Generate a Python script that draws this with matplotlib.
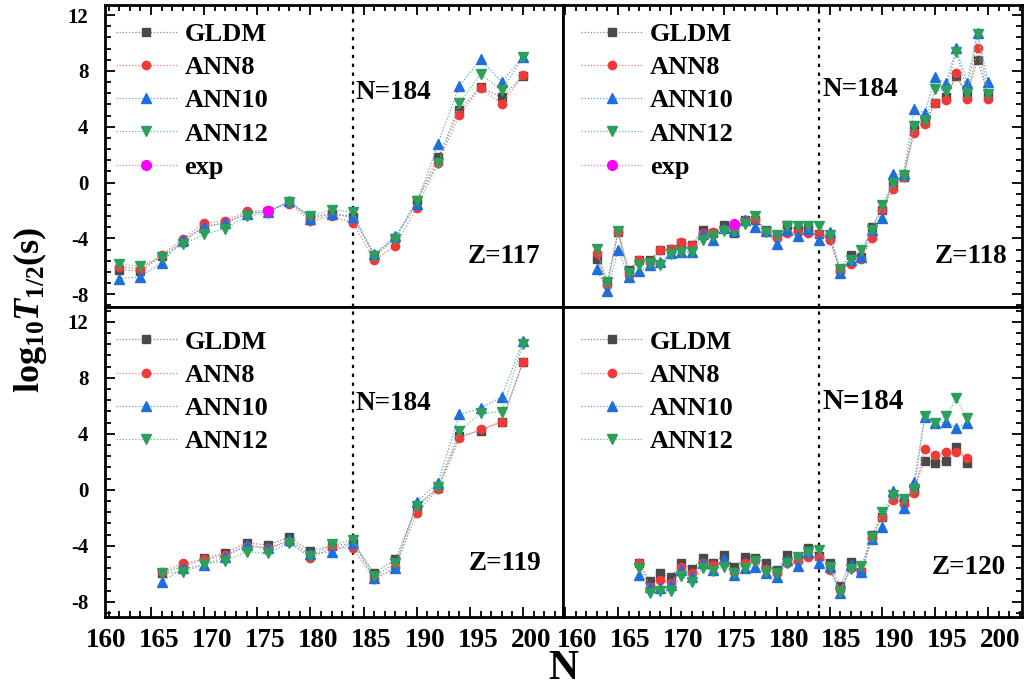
import matplotlib
matplotlib.use("Agg")
import matplotlib.pyplot as plt
from matplotlib.ticker import MultipleLocator
from matplotlib.transforms import ScaledTranslation, blended_transform_factory

plt.rcParams['font.family'] = ['Liberation Serif', 'DejaVu Serif']
plt.rcParams['font.weight'] = 'bold'
plt.rcParams['axes.unicode_minus'] = False
plt.rcParams['mathtext.fontset'] = 'custom'
plt.rcParams['mathtext.rm'] = 'Liberation Serif:bold'
plt.rcParams['mathtext.it'] = 'Liberation Serif:bold:italic'
plt.rcParams['mathtext.bf'] = 'Liberation Serif:bold'

# Z = 117
n_117 = list(range(162, 201, 2))
gldm_117 = [-6.23, -6.33, -5.28, -4.25, -3.13, -2.89, -2.22, -2.03, -1.36, -2.46,
            -2.22, -2.46, -5.20, -3.94, -1.26, 1.80, 5.19, 6.85, 6.10, 7.63]
ann8_117 = [-6.04, -6.16, -5.20, -4.01, -2.89, -2.74, -2.03, -1.98, -1.50, -2.74,
            -2.41, -2.89, -5.56, -4.53, -1.79, 1.37, 4.83, 6.81, 5.62, 7.70]
ann10_117 = [-6.88, -6.76, -5.73, -4.13, -3.17, -2.89, -2.22, -2.10, -1.33, -2.58,
             -2.27, -2.46, -5.13, -3.84, -1.55, 2.80, 6.91, 8.82, 7.22, 9.01]
ann12_117 = [-5.85, -5.99, -5.32, -4.42, -3.70, -3.29, -2.41, -2.17, -1.38, -2.41,
             -1.93, -2.10, -5.28, -4.01, -1.31, 1.41, 5.67, 7.77, 6.62, 8.97]
exp_n_117 = [176]
exp_117 = [-2.0]

# Z = 118
n_118 = list(range(163, 201))
gldm_118 = [-5.44, -7.12, -3.53, -6.23, -5.51, -5.51, -4.85, -4.73, -4.30, -4.44,
            -3.41, -3.58, -3.05, -3.60, -2.65, -2.65, -3.36, -3.77, -3.05, -3.41,
            -3.22, -3.70, -3.89, -6.16, -5.20, -5.32, -3.17, -1.98, -0.07, 0.41,
            3.87, 4.35, 5.67, 6.10, 7.63, 6.26, 8.77, 6.26]
ann8_118 = [-5.04, -7.35, -3.53, -6.64, -5.51, -5.68, -4.80, -4.73, -4.25, -4.44,
            -3.60, -3.53, -3.29, -3.30, -2.65, -2.60, -3.53, -3.94, -3.60, -3.53,
            -3.60, -3.70, -4.13, -6.33, -5.80, -5.44, -3.96, -1.98, -0.43, 0.41,
            3.52, 4.23, 5.71, 5.91, 7.86, 6.02, 9.61, 6.02]
ann10_118 = [-6.21, -7.76, -4.80, -6.76, -6.35, -5.92, -5.68, -5.04, -4.96, -4.96,
             -3.65, -4.13, -3.22, -3.46, -2.69, -3.17, -3.46, -4.41, -3.36, -3.84,
             -3.29, -4.13, -3.53, -6.47, -5.52, -5.32, -3.41, -2.51, 0.60, 0.60,
             5.24, 5.00, 7.53, 7.15, 9.61, 7.15, 10.75, 7.22]
ann12_118 = [-4.73, -7.12, -3.48, -6.47, -5.87, -5.75, -5.92, -5.08, -4.96, -4.96,
             -4.08, -3.84, -3.46, -3.46, -2.93, -2.41, -3.53, -3.77, -3.12, -3.12,
             -3.12, -3.12, -3.77, -6.16, -5.56, -4.85, -3.37, -1.57, -0.02, 0.53,
             4.04, 4.47, 6.67, 6.57, 9.37, 6.43, 10.62, 6.38]
exp_n_118 = [176]
exp_118 = [-3.0]

# Z = 119
n_119 = list(range(166, 201, 2))
gldm_119 = [-5.93, -5.50, -4.90, -4.50, -3.79, -3.95, -3.40, -4.36, -4.02, -3.83,
            -5.93, -4.98, -1.21, 0.10, 3.83, 4.21, 4.86, 9.14]
ann8_119 = [-5.86, -5.26, -4.98, -4.67, -4.02, -4.19, -3.71, -4.90, -4.12, -4.19,
            -6.40, -5.50, -1.64, 0.02, 3.67, 4.31, 4.86, 9.14]
ann10_119 = [-6.57, -5.62, -5.38, -4.79, -3.95, -4.19, -3.60, -4.60, -4.43, -3.79,
             -6.33, -5.62, -0.86, 0.50, 5.38, 5.81, 6.64, 10.64]
ann12_119 = [-5.98, -5.86, -5.33, -5.07, -4.43, -4.55, -3.79, -4.74, -3.90, -3.60,
             -6.17, -5.26, -1.17, 0.21, 4.19, 5.45, 5.57, 10.40]

# Z = 120
n_120 = list(range(167, 199))
gldm_120 = [-5.26, -6.50, -5.98, -6.26, -5.21, -5.69, -4.90, -5.26, -4.67, -5.50,
            -4.83, -4.90, -5.21, -5.74, -4.67, -4.90, -4.19, -4.74, -5.21, -6.88,
            -5.14, -5.86, -3.24, -1.93, -0.62, -0.86, 0.10, 2.07, 1.88, 2.07,
            3.02, 1.93]
ann8_120 = [-5.21, -6.93, -6.45, -6.69, -5.50, -5.98, -5.26, -5.38, -5.14, -5.86,
            -5.26, -5.02, -5.69, -5.93, -5.21, -5.07, -4.79, -4.79, -5.74, -7.17,
            -5.62, -5.79, -3.48, -1.93, -0.74, -1.02, -0.21, 2.88, 2.48, 2.71,
            2.71, 2.29]
ann10_120 = [-6.10, -6.93, -7.05, -6.81, -5.74, -6.21, -5.21, -5.74, -4.98, -6.10,
             -5.62, -5.50, -5.98, -6.26, -5.02, -5.45, -4.43, -5.26, -5.50, -7.40,
             -5.38, -5.86, -3.55, -2.64, -0.07, -1.33, 0.57, 5.21, 4.74, 4.86,
             4.43, 4.79]
ann12_120 = [-5.62, -7.36, -7.21, -7.21, -6.17, -6.57, -5.62, -5.79, -5.50, -5.98,
             -5.62, -5.10, -5.86, -5.98, -5.21, -4.79, -4.43, -4.31, -5.50, -7.29,
             -5.69, -5.45, -3.36, -1.57, -0.38, -0.69, 0.02, 5.26, 4.74, 5.26,
             6.52, 5.10]

# marker colour, connecting-line colour, marker, size
series_style = {
    'GLDM': ('#4a4a4a', '#8a8a8a', 's', 5.5),
    'ANN8': ('#f03a3a', '#f07a7a', 'o', 6),
    'ANN10': ('#1e6fdc', '#6a9be6', '^', 7),
    'ANN12': ('#2e9e5b', '#6cbf8e', 'v', 7),
    'exp': ('#ff00ff', '#e080e0', 'o', 7),
}
dot = (0, (1, 1.5))

fig = plt.figure(figsize=(10.26, 6.89), dpi=100)
W, H = 1026, 689


def make_ax(x0, y0, x1, y1):
    return fig.add_axes([x0 / W, 1 - y1 / H, (x1 - x0) / W, (y1 - y0) / H])


ax_tl = make_ax(105, 5, 563, 307)
ax_tr = make_ax(563, 5, 1022, 307)
ax_bl = make_ax(105, 307, 563, 617)
ax_br = make_ax(563, 307, 1022, 617)

panels = [
    (ax_tl, n_117, [gldm_117, ann8_117, ann10_117, ann12_117], (exp_n_117, exp_117)),
    (ax_tr, n_118, [gldm_118, ann8_118, ann10_118, ann12_118], (exp_n_118, exp_118)),
    (ax_bl, n_119, [gldm_119, ann8_119, ann10_119, ann12_119], None),
    (ax_br, n_120, [gldm_120, ann8_120, ann10_120, ann12_120], None),
]
names = ['GLDM', 'ANN8', 'ANN10', 'ANN12']


def draw(ax, n, v, name, z=2):
    mc, lc, mk, ms = series_style[name]
    ax.plot(n, v, ls=dot, lw=0.9, color=lc, marker=mk, ms=ms,
            mec=mc, mfc=mc, label=name, zorder=z)


for ax, n, vals, exp in panels:
    for name, v in zip(names, vals):
        draw(ax, n, v, name)
    if exp is not None:
        draw(ax, exp[0], exp[1], 'exp', z=5)
    ax.axvline(184, color='black', ls=(0, (1.5, 2.5)), lw=1.6, zorder=1)

    for sp in ax.spines.values():
        sp.set_linewidth(2)
    ax.xaxis.set_major_locator(MultipleLocator(5))
    ax.xaxis.set_minor_locator(MultipleLocator(1))
    ax.yaxis.set_major_locator(MultipleLocator(4))
    ax.yaxis.set_minor_locator(MultipleLocator(0.8))
    ax.tick_params(which='both', direction='in', width=1.3,
                   left=False, right=False, top=False, bottom=False,
                   labelleft=False, labelbottom=False)
    ax.tick_params(which='major', length=7)
    ax.tick_params(which='minor', length=4)

    left = ax in (ax_tl, ax_bl)
    top = ax in (ax_tl, ax_tr)
    ax.legend(loc='upper left', frameon=False, prop=dict(size=19, weight='bold'),
              handlelength=2.3, handletextpad=0.3, labelspacing=0.37,
              borderaxespad=0.0, borderpad=0.0,
              bbox_to_anchor=(0.024 if left else 0.04, 0.942 if top else 0.925))

ax_tl.set_xlim(160.67, 203.76)
ax_bl.set_xlim(160.67, 203.76)
ax_tr.set_xlim(159.8, 203.2)
ax_br.set_xlim(159.8, 203.2)
for ax in (ax_tl, ax_tr):
    ax.set_ylim(-8.91, 12.72)
    ax.tick_params(axis='x', which='both', top=True)
for ax in (ax_bl, ax_br):
    ax.set_ylim(-9.09, 13.05)
    ax.tick_params(axis='x', which='both', bottom=True, labelbottom=True, labelsize=19.5, pad=8)
for ax in (ax_tl, ax_bl):
    ax.tick_params(axis='y', which='both', left=True, labelleft=True, labelsize=15, pad=12)
for ax in (ax_tr, ax_br):
    ax.tick_params(axis='y', which='both', right=True)

# N labels sit a little to the right of their ticks
fig.canvas.draw()
for ax, dx in ((ax_bl, 8), (ax_br, 12)):
    for lab in ax.get_xticklabels():
        lab.set_transform(lab.get_transform() + ScaledTranslation(dx / 100, 0, fig.dpi_scale_trans))
# the 160 label of the lower-left panel lies just outside its N range
ax_bl.text(160, 0, '160', fontsize=19.5, weight='bold', ha='center', va='top', clip_on=False,
           transform=blended_transform_factory(ax_bl.transData, ax_bl.transAxes)
           + ScaledTranslation(8 / 100, -11 / 100, fig.dpi_scale_trans))

# N=184 and Z labels inside each panel
ax_tl.text(0.548, 0.709, 'N=184', transform=ax_tl.transAxes, fontsize=19.5, weight='bold', va='center')
ax_tr.text(0.566, 0.719, 'N=184', transform=ax_tr.transAxes, fontsize=19.5, weight='bold', va='center')
ax_bl.text(0.548, 0.690, 'N=184', transform=ax_bl.transAxes, fontsize=19.5, weight='bold', va='center')
ax_br.text(0.565, 0.694, 'N=184', transform=ax_br.transAxes, fontsize=21, weight='bold', va='center')
ax_tl.text(0.950, 0.166, 'Z=117', transform=ax_tl.transAxes, fontsize=19.5, weight='bold', ha='right', va='center')
ax_tr.text(0.969, 0.166, 'Z=118', transform=ax_tr.transAxes, fontsize=19.5, weight='bold', ha='right', va='center')
ax_bl.text(0.954, 0.174, 'Z=119', transform=ax_bl.transAxes, fontsize=19.5, weight='bold', ha='right', va='center')
ax_br.text(0.965, 0.161, 'Z=120', transform=ax_br.transAxes, fontsize=19.5, weight='bold', ha='right', va='center')

fig.text(30 / W, 1 - 310 / H, r'$\mathrm{log}_{10}T_{1/2}\mathrm{(s)}$', rotation=90,
         fontsize=26, ha='center', va='center')
fig.text(563 / W, 1 - 669 / H, 'N', fontsize=30, weight='bold', ha='center', va='center')

fig.savefig('out.png', dpi=100)
